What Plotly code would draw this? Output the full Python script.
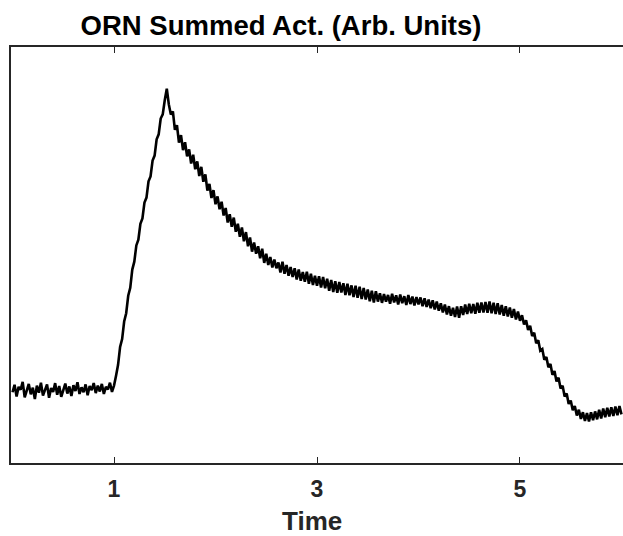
import plotly.graph_objects as go

activity = [
    # baseline 0.00 - 1.00
    0.170, 0.188, 0.160, 0.183, 0.176, 0.195, 0.158, 0.172, 0.190, 0.165,
    0.181, 0.154, 0.186, 0.169, 0.193, 0.162, 0.177, 0.189, 0.157, 0.180,
    0.171, 0.192, 0.164, 0.185, 0.159, 0.178, 0.191, 0.167, 0.184, 0.161,
    0.187, 0.173, 0.194, 0.166, 0.182, 0.170, 0.189, 0.163, 0.185, 0.175,
    0.192, 0.168, 0.186, 0.172, 0.190, 0.166, 0.183, 0.177, 0.193, 0.171,
    0.186,
    # rise 1.02 - 1.50
    0.210, 0.236, 0.279, 0.298, 0.340, 0.360, 0.402, 0.421, 0.465, 0.484,
    0.523, 0.537, 0.575, 0.588, 0.626, 0.638, 0.677, 0.689, 0.727, 0.739,
    0.778, 0.790, 0.828, 0.838, 0.872,
    # peak 1.52 - 1.54
    0.900, 0.862,
    # decay 1.56 - 2.50
    0.838, 0.845, 0.801, 0.812, 0.770, 0.788, 0.752, 0.771, 0.737, 0.754,
    0.720, 0.741, 0.706, 0.725, 0.690, 0.712, 0.676, 0.694, 0.655, 0.671,
    0.637, 0.656, 0.622, 0.641, 0.610, 0.628, 0.595, 0.613, 0.578, 0.598,
    0.568, 0.590, 0.556, 0.575, 0.544, 0.566, 0.533, 0.555, 0.521, 0.542,
    0.508, 0.530, 0.503, 0.521, 0.492, 0.515, 0.481, 0.503,
    # slow decay 2.52 - 3.60
    0.476, 0.495, 0.470, 0.489, 0.468, 0.482, 0.458, 0.484, 0.455, 0.476,
    0.450, 0.471, 0.447, 0.468, 0.441, 0.465, 0.438, 0.459, 0.436, 0.460,
    0.431, 0.455, 0.428, 0.450, 0.426, 0.449, 0.422, 0.447, 0.420, 0.443,
    0.414, 0.440, 0.411, 0.437, 0.409, 0.435, 0.410, 0.432, 0.404, 0.431,
    0.403, 0.427, 0.399, 0.426, 0.397, 0.424, 0.394, 0.421, 0.393, 0.417,
    0.389, 0.414, 0.386, 0.413, 0.388,
    # plateau 3.62 - 4.00
    0.408, 0.385, 0.406, 0.388, 0.404, 0.383, 0.407, 0.386, 0.403, 0.381,
    0.405, 0.384, 0.401, 0.380, 0.404, 0.382, 0.400, 0.379, 0.399, 0.381,
    # plateau with bump 4.02 - 5.00
    0.398, 0.377, 0.396, 0.375, 0.393, 0.372, 0.391, 0.369, 0.388, 0.366,
    0.384, 0.362, 0.381, 0.357, 0.377, 0.354, 0.373, 0.351, 0.376, 0.349,
    0.377, 0.356, 0.381, 0.358, 0.383, 0.360, 0.382, 0.359, 0.385, 0.361,
    0.386, 0.362, 0.387, 0.361, 0.388, 0.360, 0.385, 0.358, 0.384, 0.357,
    0.380, 0.354, 0.377, 0.352, 0.374, 0.349, 0.370, 0.345, 0.364, 0.342,
    # offset 5.02 - 6.00
    0.355, 0.333, 0.343, 0.320, 0.330, 0.305, 0.313, 0.288, 0.295, 0.270,
    0.274, 0.248, 0.255, 0.230, 0.238, 0.212, 0.221, 0.196, 0.205, 0.179,
    0.186, 0.160, 0.167, 0.142, 0.150, 0.127, 0.137, 0.114, 0.128, 0.106,
    0.122, 0.101, 0.120, 0.100, 0.122, 0.103, 0.124, 0.105, 0.128, 0.107,
    0.131, 0.110, 0.133, 0.112, 0.134, 0.113, 0.136, 0.115, 0.137, 0.117,
]

# sample times (s): regular 0.02 s sampling grid
time = [round(i * 0.02, 2) for i in range(len(activity))]

tick_vals = [1, 3, 5]
tick_text = ["1", "3", "5"]

FONT = "Liberation Sans, Arial, Helvetica, sans-serif"
AX = "#262626"

fig = go.Figure()
fig.add_trace(go.Scatter(x=time, y=activity, mode="lines",
                         line=dict(color="black", width=2.6),
                         showlegend=False, hoverinfo="skip"))

fig.update_layout(
    width=623, height=536,
    margin=dict(l=11, r=0, t=47, b=73),
    paper_bgcolor="white", plot_bgcolor="white",
    title=dict(text="ORN Summed Act. (Arb. Units)",
               font=dict(family=FONT, size=27.5, color="black", weight="bold"),
               xref="paper", x=(281 - 11) / 612, xanchor="center",
               yref="container", y=1 - 25 / 536, yanchor="middle"),
    xaxis=dict(range=[-0.015, 6.015], tickvals=tick_vals, ticktext=tick_text,
               ticks="inside", ticklen=6, tickwidth=1.3, tickcolor=AX,
               showline=True, linecolor=AX, linewidth=1.5, mirror="ticks",
               showgrid=False, zeroline=False,
               tickfont=dict(family=FONT, size=23, color=AX, weight="bold"),
               ticklabelstandoff=5),
    yaxis=dict(range=[0, 1], showticklabels=False, ticks="",
               showline=True, linecolor=AX, linewidth=1.5, mirror=False,
               showgrid=False, zeroline=False),
    annotations=[dict(text="Time", xref="paper", yref="paper",
                      x=(312 - 11) / 612, y=0, xanchor="center",
                      yanchor="middle", yshift=-58, showarrow=False,
                      font=dict(family=FONT, size=26, color=AX,
                                weight="bold"))],
)

fig.write_html("out.html",
               config={"displayModeBar": False},
               post_script="document.body.style.margin='0';"
                           "document.documentElement.style.overflow='hidden';")
